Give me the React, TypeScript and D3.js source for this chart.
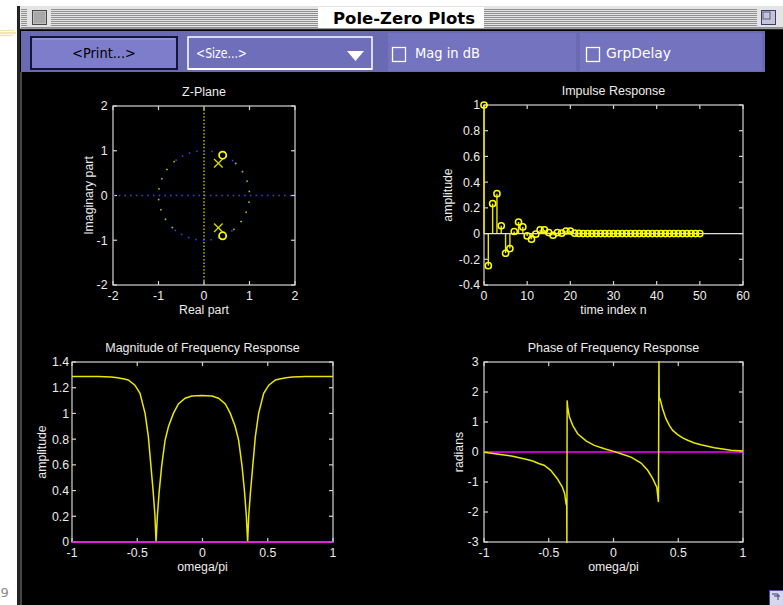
import React from "react";
import * as d3 from "d3";

// ---------- data ----------
const zeroRe = [0.41, 0.41];
const zeroIm = [0.9, -0.9];
const poleRe = [0.315, 0.315];
const poleIm = [0.72, -0.72];
const zTicks = [-2, -1, 0, 1, 2];

const impulseH = [
  1, -0.25, 0.233, 0.31, 0.06, -0.153, -0.117, 0.016, 0.09, 0.052,
  -0.018, -0.044, -0.005, 0.028, 0.028, 0.008, -0.013, 0.008, 0.003, 0.02,
  0.02, 0.003, 0.001, 0, 0, 0, 0, 0, 0, 0,
  0, 0, 0, 0, 0, 0, 0, 0, 0, 0,
  0, 0, 0, 0, 0, 0, 0, 0, 0, 0,
  0,
];
const impulseXTicks = [0, 10, 20, 30, 40, 50, 60];
const impulseYTicks = [-0.4, -0.2, 0, 0.2, 0.4, 0.6, 0.8, 1];

const magOmega = [
  -1, -0.9, -0.8, -0.7, -0.65, -0.6, -0.569, -0.518, -0.479, -0.44, -0.415, -0.395,
  -0.377, -0.364, -0.356, -0.346, -0.333, -0.313, -0.287, -0.26, -0.223, -0.185,
  -0.133, -0.082, -0.005, 0.072, 0.123, 0.175, 0.213, 0.25, 0.277, 0.303, 0.323,
  0.336, 0.346, 0.354, 0.367, 0.385, 0.405, 0.43, 0.469, 0.508, 0.559, 0.59, 0.64,
  0.69, 0.79, 0.89, 1,
];
const magValues = [
  1.288, 1.288, 1.287, 1.283, 1.277, 1.268, 1.26, 1.22, 1.157, 1.0, 0.82, 0.59,
  0.38, 0.2, 0, 0.2, 0.38, 0.59, 0.79, 0.9, 1.0, 1.074,
  1.118, 1.136, 1.139, 1.136, 1.118, 1.074, 1.0, 0.9, 0.79, 0.59, 0.38,
  0.2, 0, 0.2, 0.38, 0.59, 0.82, 1.0, 1.157, 1.22, 1.26, 1.268, 1.277,
  1.283, 1.287, 1.288, 1.288,
];
const freqXTicks = [-1, -0.5, 0, 0.5, 1];
const magYTicks = [0, 0.2, 0.4, 0.6, 0.8, 1, 1.2, 1.4];

const phaseOmega = [
  -1, -0.93, -0.9, -0.83, -0.779, -0.727, -0.676, -0.624, -0.573, -0.536, -0.485,
  -0.434, -0.395, -0.377, -0.367, -0.361, -0.36, -0.358, -0.354, -0.341, -0.315,
  -0.277, -0.212, -0.148, -0.07, -0.006, 0.058, 0.135, 0.213, 0.264, 0.303, 0.334,
  0.347, 0.351, 0.353, 0.361, 0.379, 0.405, 0.431, 0.457, 0.496, 0.534, 0.573,
  0.624, 0.676, 0.727, 0.779, 0.83, 0.907, 1,
];
const phaseValues = [
  -0.01, -0.05, -0.07, -0.11, -0.14, -0.19, -0.24, -0.3, -0.39, -0.44, -0.61,
  -0.89, -1.17, -1.39, -1.72, -1.8, -3.14, 1.72, 1.5, 1.17, 0.89,
  0.61, 0.37, 0.22, 0.11, 0.03, -0.06, -0.17, -0.37, -0.61, -0.89, -1.17,
  -1.67, 3.14, 1.83, 1.75, 1.44, 1.11, 0.89, 0.72, 0.58, 0.47, 0.39,
  0.3, 0.24, 0.19, 0.14, 0.11, 0.06, 0.03,
];
const phaseYTicks = [-3, -2, -1, 0, 1, 2, 3];

// ---------- styling ----------
const FONT = "'Liberation Sans', Arial, Helvetica, sans-serif";
const UI_FONT = "'DejaVu Sans Condensed', 'DejaVu Sans', sans-serif";
const AXIS = "#d4d4d4";
const TEXT = "#ececec";
const YEL = "#e8e800";
const MARK = "#ffff00";
const MAG = "#ff00ff";

type Box = { x0: number; x1: number; y0: number; y1: number };
type Scale = d3.ScaleLinear<number, number>;

function Axes(props: {
  id: string;
  box: Box;
  xDomain: [number, number];
  yDomain: [number, number];
  xTicks: number[];
  yTicks: number[];
  title: string;
  xlabel: string;
  ylabel: string;
  ylabelX: number;
  yGap: number;
  children: (sx: Scale, sy: Scale) => React.ReactNode;
  overlay?: (sx: Scale, sy: Scale) => React.ReactNode;
}) {
  const { id, box, xDomain, yDomain, xTicks, yTicks, title, xlabel, ylabel, ylabelX, yGap } = props;
  const sx = d3.scaleLinear().domain(xDomain).range([box.x0, box.x1]);
  const sy = d3.scaleLinear().domain(yDomain).range([box.y1, box.y0]);
  const tl = 4;
  const cx = (box.x0 + box.x1) / 2;
  const cy = (box.y0 + box.y1) / 2;
  return (
    <g>
      <clipPath id={id}>
        <rect x={box.x0 - 1} y={box.y0 - 1} width={box.x1 - box.x0 + 2} height={box.y1 - box.y0 + 2} />
      </clipPath>
      <rect x={box.x0} y={box.y0} width={box.x1 - box.x0} height={box.y1 - box.y0}
        fill="none" stroke={AXIS} strokeWidth={1.2} />
      {xTicks.map((t) => (
        <g key={"xt" + t}>
          <line x1={sx(t)} x2={sx(t)} y1={box.y1} y2={box.y1 - tl} stroke={AXIS} strokeWidth={1.2} />
          <line x1={sx(t)} x2={sx(t)} y1={box.y0} y2={box.y0 + tl} stroke={AXIS} strokeWidth={1.2} />
          <text x={sx(t)} y={box.y1 + 15} textAnchor="middle" fontFamily={FONT} fontSize={12.3} fill={TEXT}>
            {String(t)}
          </text>
        </g>
      ))}
      {yTicks.map((t) => (
        <g key={"yt" + t}>
          <line x1={box.x0} x2={box.x0 + tl} y1={sy(t)} y2={sy(t)} stroke={AXIS} strokeWidth={1.2} />
          <line x1={box.x1} x2={box.x1 - tl} y1={sy(t)} y2={sy(t)} stroke={AXIS} strokeWidth={1.2} />
          <text x={box.x0 - yGap} y={sy(t)} dy="0.36em" textAnchor="end" fontFamily={FONT} fontSize={12.3} fill={TEXT}>
            {String(t)}
          </text>
        </g>
      ))}
      <text x={cx} y={box.y0 - 10.5} textAnchor="middle" fontFamily={FONT} fontSize={12.5} fill={TEXT}>
        {title}
      </text>
      <text x={cx} y={box.y1 + 28.5} textAnchor="middle" fontFamily={FONT} fontSize={12.3} fill={TEXT}>
        {xlabel}
      </text>
      <text transform={`translate(${ylabelX},${cy}) rotate(-90)`} textAnchor="middle" fontFamily={FONT}
        fontSize={12.3} fill={TEXT}>
        {ylabel}
      </text>
      <g clipPath={`url(#${id})`}>{props.children(sx, sy)}</g>
      {props.overlay ? <g>{props.overlay(sx, sy)}</g> : null}
    </g>
  );
}

function ZPlane() {
  const box = { x0: 113, x1: 295, y0: 106, y1: 285 };
  return (
    <Axes id="cz" box={box} xDomain={[-2, 2]} yDomain={[-2, 2]} xTicks={zTicks} yTicks={zTicks}
      title="Z-Plane" xlabel="Real part" ylabel="Imaginary part" ylabelX={92.5} yGap={5.5}>
      {(sx, sy) => {
        const arc = (a0: number, a1: number) =>
          d3.line<number>()
            .x((a) => sx(Math.cos((a * Math.PI) / 180)))
            .y((a) => sy(Math.sin((a * Math.PI) / 180)))(d3.range(a0, a1 + 0.5, 1)) || "";
        return (
          <g>
            <line x1={sx(-2)} x2={sx(2)} y1={sy(0)} y2={sy(0)} stroke="#3a3aff" strokeWidth={1.6}
              strokeDasharray="1.6 4.1" />
            <line x1={sx(0)} x2={sx(0)} y1={sy(2)} y2={sy(-2)} stroke="#b8b800" strokeWidth={1.5}
              strokeDasharray="1.5 1.9" />
            <path d={arc(-50, 50)} fill="none" stroke="#bcbc00" strokeWidth={1.6} strokeDasharray="1.6 9" />
            <path d={arc(130, 230)} fill="none" stroke="#bcbc00" strokeWidth={1.6} strokeDasharray="1.6 9" />
            <path d={arc(50, 130)} fill="none" stroke="#3a3aee" strokeWidth={1.6} strokeDasharray="1.6 6" />
            <path d={arc(230, 310)} fill="none" stroke="#3a3aee" strokeWidth={1.6} strokeDasharray="1.6 6" />
            {zeroRe.map((r, i) => (
              <circle key={"z" + i} cx={sx(r)} cy={sy(zeroIm[i])} r={3.6} fill="none" stroke={MARK} strokeWidth={1.7} />
            ))}
            {poleRe.map((r, i) => {
              const x = sx(r), y = sy(poleIm[i]), s = 4.3;
              return (
                <g key={"p" + i} stroke="#d8d800" strokeWidth={1.3}>
                  <line x1={x - s} y1={y - s} x2={x + s} y2={y + s} />
                  <line x1={x - s} y1={y + s} x2={x + s} y2={y - s} />
                </g>
              );
            })}
          </g>
        );
      }}
    </Axes>
  );
}

function Impulse() {
  const box = { x0: 484, x1: 743, y0: 105, y1: 285 };
  return (
    <Axes id="ci" box={box} xDomain={[0, 60]} yDomain={[-0.4, 1]} xTicks={impulseXTicks} yTicks={impulseYTicks}
      title="Impulse Response" xlabel="time index n" ylabel="amplitude" ylabelX={452} yGap={4}
      overlay={(sx, sy) => (
        <g>
          {impulseH.map((v, n) => (
            <circle key={"c" + n} cx={sx(n)} cy={sy(v)} r={3.1} fill="none" stroke={MARK} strokeWidth={1.5} />
          ))}
        </g>
      )}>
      {(sx, sy) => (
        <g>
          {impulseH.map((v, n) => (
            <line key={"s" + n} x1={sx(n)} x2={sx(n)} y1={sy(0)} y2={sy(v)} stroke={YEL} strokeWidth={1.4} />
          ))}
          <line x1={box.x0} x2={box.x1} y1={sy(0)} y2={sy(0)} stroke="#e0e0e0" strokeWidth={1.3} />
        </g>
      )}
    </Axes>
  );
}

function Magnitude() {
  const box = { x0: 72, x1: 333, y0: 362, y1: 542 };
  return (
    <Axes id="cm" box={box} xDomain={[-1, 1]} yDomain={[0, 1.4]} xTicks={freqXTicks} yTicks={magYTicks}
      title="Magnitude of Frequency Response" xlabel="omega/pi" ylabel="amplitude" ylabelX={45.5} yGap={3}>
      {(sx, sy) => {
        const pts = magOmega.map((w, i) => [w, magValues[i]] as [number, number]);
        const d = d3.line<[number, number]>().x((p) => sx(p[0])).y((p) => sy(p[1]))(pts) || "";
        return (
          <g>
            <path d={d} fill="none" stroke={YEL} strokeWidth={1.5} />
            <line x1={box.x0} x2={box.x1} y1={sy(0)} y2={sy(0)} stroke={MAG} strokeWidth={1.6} />
          </g>
        );
      }}
    </Axes>
  );
}

function Phase() {
  const box = { x0: 484, x1: 743, y0: 362, y1: 542 };
  return (
    <Axes id="cp" box={box} xDomain={[-1, 1]} yDomain={[-3, 3]} xTicks={freqXTicks} yTicks={phaseYTicks}
      title="Phase of Frequency Response" xlabel="omega/pi" ylabel="radians" ylabelX={463} yGap={5.5}>
      {(sx, sy) => {
        const pts = phaseOmega.map((w, i) => [w, phaseValues[i]] as [number, number]);
        const d = d3.line<[number, number]>().x((p) => sx(p[0])).y((p) => sy(p[1]))(pts) || "";
        return (
          <g>
            <line x1={box.x0} x2={box.x1} y1={sy(0)} y2={sy(0)} stroke={MAG} strokeWidth={1.6} />
            <path d={d} fill="none" stroke={YEL} strokeWidth={1.5} />
          </g>
        );
      }}
    </Axes>
  );
}

function TitleBar() {
  const stripes = d3.range(9, 28, 2);
  return (
    <g>
      <rect x={20} y={6} width={763} height={23} fill="#e4e4e4" />
      {stripes.map((y) => (
        <line key={y} x1={21} x2={783} y1={y + 0.5} y2={y + 0.5} stroke="#8f8f8f" strokeWidth={1} />
      ))}
      <rect x={27} y={8} width={24} height={19} fill="#e4e4e4" />
      <rect x={32.5} y={10.5} width={14} height={14} fill="#bdbdbd" stroke="#4a4a4a" strokeWidth={1} />
      <rect x={34} y={12} width={11} height={11} fill="#a8a8a8" />
      <rect x={318} y={7} width={166} height={21} fill="#ffffff" />
      <text x={404} y={24} textAnchor="middle" fontFamily="'DejaVu Sans', sans-serif" fontWeight="bold"
        fontSize={15.5} fill="#000" textLength={142} lengthAdjust="spacingAndGlyphs">
        Pole-Zero Plots
      </text>
      <rect x={757} y={8} width={26} height={19} fill="#e4e4e4" />
      <rect x={761.5} y={10.5} width={14} height={14} fill="#c4c4d4" stroke="#3c3c6c" strokeWidth={1} />
      <rect x={763} y={12} width={7} height={7} fill="none" stroke="#5a5a8a" strokeWidth={1} />
      <line x1={20} x2={783} y1={29} y2={29} stroke="#555" strokeWidth={1} />
    </g>
  );
}

function ControlPanel() {
  return (
    <g>
      <rect x={21} y={31} width={744} height={41} fill="#6a6ab3" />
      {/* Print button */}
      <rect x={31} y={37} width={146} height={32} fill="#7d7dcb" stroke="#15153a" strokeWidth={2} />
      <line x1={33} x2={175} y1={39} y2={39} stroke="#a4a4e4" strokeWidth={1} />
      <text x={104} y={58} textAnchor="middle" fontFamily={UI_FONT} fontSize={14} fill="#000"
        textLength={64} lengthAdjust="spacingAndGlyphs">
        {"<Print...>"}
      </text>
      {/* Size popup */}
      <rect x={188} y={37} width={184} height={32} fill="#6e6eba" stroke="#ffffff" strokeWidth={1.5} />
      <line x1={188} x2={372} y1={69} y2={69} stroke="#ffffff" strokeWidth={2} />
      <text x={196} y={58} fontFamily={UI_FONT} fontSize={14} fill="#fff" textLength={51}
        lengthAdjust="spacingAndGlyphs">
        {"<Size...>"}
      </text>
      <polygon points="347,51 364,51 355.5,61" fill="#fff" />
      {/* Mag in dB */}
      <rect x={388} y={33} width={188} height={38} fill="#7373c0" />
      <rect x={392.5} y={47.5} width={13} height={14} fill="none" stroke="#fff" strokeWidth={1.3} />
      <text x={415} y={58} fontFamily={UI_FONT} fontSize={14} fill="#fff" textLength={65}
        lengthAdjust="spacingAndGlyphs">
        Mag in dB
      </text>
      {/* GrpDelay */}
      <rect x={580} y={33} width={182} height={38} fill="#7373c0" />
      <rect x={586.5} y={47.5} width={13} height={14} fill="none" stroke="#fff" strokeWidth={1.3} />
      <text x={606} y={58} fontFamily={UI_FONT} fontSize={14} fill="#fff" textLength={65}
        lengthAdjust="spacingAndGlyphs">
        GrpDelay
      </text>
    </g>
  );
}

export default function App() {
  return (
    <svg width={783} height={605} viewBox="0 0 783 605"
      style={{ position: "absolute", left: 0, top: 0, display: "block", background: "#fff" }}>
      <rect x={0} y={0} width={783} height={605} fill="#ffffff" />
      <rect x={20} y={29} width={763} height={576} fill="#000000" />
      <rect x={17} y={6} width={3} height={599} fill="#222" />
      <line x1={21} x2={21} y1={72} y2={605} stroke="#8a8a8a" strokeWidth={1} />
      {/* left desktop bits */}
      <g stroke="#f0d470" strokeWidth={1.2}>
        <line x1={0} x2={14} y1={30.5} y2={30.5} opacity={0.6} />
        <line x1={0} x2={16} y1={33} y2={33} />
        <line x1={0} x2={13} y1={35.5} y2={35.5} opacity={0.7} />
      </g>
      <text x={0.5} y={597} fontFamily="'DejaVu Sans', sans-serif" fontSize={13} fill="#8a8a8a">9</text>
      <TitleBar />
      <ControlPanel />
      <ZPlane />
      <Impulse />
      <Magnitude />
      <Phase />
      <rect x={769.5} y={590.5} width={14} height={15} fill="#d6d6ec" stroke="#4c4c96" strokeWidth={1} />
      <path d="M772,594 h6 v6 M774,596 h6" fill="none" stroke="#3a3a7a" strokeWidth={1} />
    </svg>
  );
}
